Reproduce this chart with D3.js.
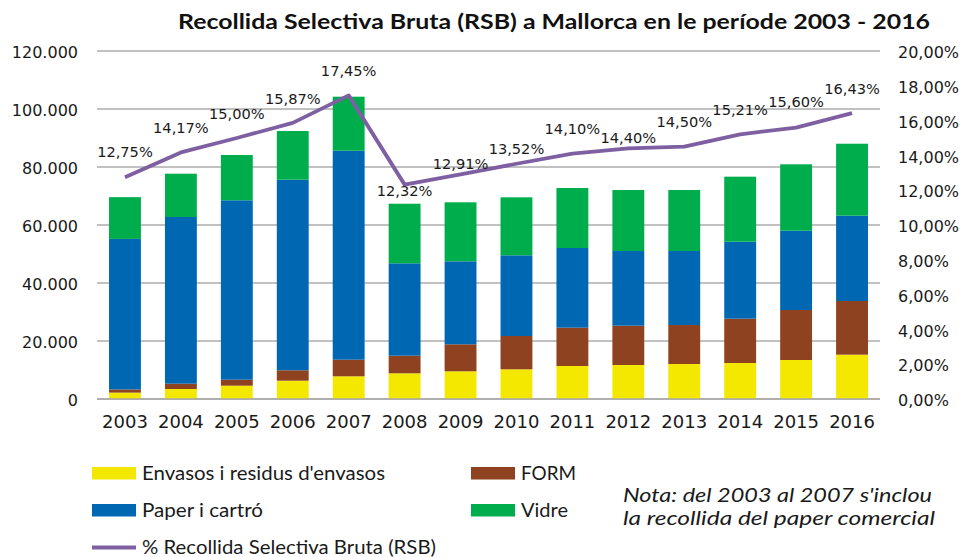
<!DOCTYPE html>
<html>
<head>
<meta charset="utf-8">
<script src="https://cdn.jsdelivr.net/npm/d3@7"></script>
<style>
  html, body { margin: 0; padding: 0; background: #fff; }
  svg { display: block; }
</style>
</head>
<body>
<svg id="chart" width="963" height="557"></svg>
<script>
// Tonnes collected per year and fraction, plus the overall RSB percentage
const years = ["2003","2004","2005","2006","2007","2008","2009","2010","2011","2012","2013","2014","2015","2016"];
const envasos = [2200, 3450, 4590, 6310, 7830, 8860, 9550, 10240, 11380, 11720, 12070, 12410, 13450, 15280];
const form    = [1100, 1830, 2070, 3590, 5720, 6070, 9310, 11480, 13210, 13560, 13450, 15280, 17240, 18510];
const paper   = [51900, 57480, 61860, 65720, 72070, 31860, 28620, 27830, 27480, 25750, 25510, 26550, 27340, 29420];
const vidre   = [14400, 14930, 15620, 16790, 18620, 20550, 20350, 20000, 20690, 21040, 21040, 22420, 22900, 24820];
const rsbPct  = [12.75, 14.17, 15.00, 15.87, 17.45, 12.32, 12.91, 13.52, 14.10, 14.40, 14.50, 15.21, 15.60, 16.43];

const leftTicks  = [0, 20000, 40000, 60000, 80000, 100000, 120000];
const rightTicks = [0, 2, 4, 6, 8, 10, 12, 14, 16, 18, 20];

const seriesNames = ["Envasos i residus d'envasos", "FORM", "Paper i cartró", "Vidre"];
const lineName = "% Recollida Selectiva Bruta (RSB)";
const titleText = "Recollida Selectiva Bruta (RSB) a Mallorca en le període 2003 - 2016";
const noteLines = ["Nota: del 2003 al 2007 s'inclou", "la recollida del paper comercial"];

const colors = {
  "Envasos i residus d'envasos": "#f4e800",
  "FORM": "#8e4220",
  "Paper i cartró": "#0068b3",
  "Vidre": "#00ad4c"
};
const lineColor = "#7e60a2";

// vertical offset of each percentage label's baseline from its point
const labelDy = [-20, -19, -19, -19, -19, 11, -5, -10, -20, -5, -20, -19, -21, -19];

const rows = years.map((y, i) => ({
  year: y,
  "Envasos i residus d'envasos": envasos[i],
  "FORM": form[i],
  "Paper i cartró": paper[i],
  "Vidre": vidre[i]
}));

const svg = d3.select("#chart");
const plot = { left: 97, right: 880, top: 51, bottom: 399 };

const x = d3.scaleBand()
  .domain(years)
  .range([plot.left, plot.right])
  .paddingInner(0.43)
  .paddingOuter(0.215);

const y = d3.scaleLinear().domain([0, 120000]).range([plot.bottom, plot.top]);
const y2 = d3.scaleLinear().domain([0, 20]).range([plot.bottom, plot.top]);

const fmtThousands = d3.formatLocale({ decimal: ",", thousands: ".", grouping: [3], currency: ["", "€"] }).format(",.0f");
const fmtPct = v => d3.format(".2f")(v).replace(".", ",") + "%";

// gridlines
svg.append("g")
  .selectAll("line")
  .data(leftTicks)
  .join("line")
  .attr("x1", plot.left).attr("x2", plot.right)
  .attr("y1", d => y(d)).attr("y2", d => y(d))
  .attr("stroke", "#adadad")
  .attr("stroke-width", 1.3);

// left axis
const leftAxis = svg.append("g")
  .attr("transform", `translate(${plot.left},0)`)
  .call(d3.axisLeft(y).tickValues(leftTicks).tickFormat(d => d === 0 ? "0" : fmtThousands(d)).tickSize(0).tickPadding(19));
leftAxis.select(".domain").remove();
leftAxis.selectAll("text")
  .attr("font-family", "DejaVu Sans, Verdana, sans-serif")
  .attr("font-size", 16)
  .attr("fill", "#1a1a1a")
  .attr("dy", "0.42em");

// right axis
const rightAxis = svg.append("g")
  .attr("transform", `translate(${plot.right},0)`)
  .call(d3.axisRight(y2).tickValues(rightTicks).tickFormat(fmtPct).tickSize(0).tickPadding(18));
rightAxis.select(".domain").remove();
rightAxis.selectAll("text")
  .attr("font-family", "DejaVu Sans, Verdana, sans-serif")
  .attr("font-size", 16)
  .attr("fill", "#1a1a1a")
  .attr("dy", "0.42em");

// bottom axis
const bottomAxis = svg.append("g")
  .attr("transform", `translate(0,${plot.bottom})`)
  .call(d3.axisBottom(x).tickSize(0).tickPadding(16));
bottomAxis.select(".domain").remove();
bottomAxis.selectAll("text")
  .attr("font-family", "DejaVu Sans, Verdana, sans-serif")
  .attr("font-size", 18)
  .attr("fill", "#1a1a1a");

// stacked bars
const stack = d3.stack().keys(seriesNames);
const layers = stack(rows);
svg.append("g")
  .selectAll("g")
  .data(layers)
  .join("g")
  .attr("fill", d => colors[d.key])
  .selectAll("rect")
  .data(d => d)
  .join("rect")
  .attr("x", d => x(d.data.year))
  .attr("width", x.bandwidth())
  .attr("y", d => y(d[1]))
  .attr("height", d => y(d[0]) - y(d[1]));

// baseline
svg.append("line")
  .attr("x1", plot.left).attr("x2", plot.right)
  .attr("y1", plot.bottom).attr("y2", plot.bottom)
  .attr("stroke", "#a8a8a8").attr("stroke-width", 1.5);

// RSB percentage line
const cx = i => x(years[i]) + x.bandwidth() / 2;
const line = d3.line().x((d, i) => cx(i)).y(d => y2(d));
svg.append("path")
  .datum(rsbPct)
  .attr("d", line)
  .attr("fill", "none")
  .attr("stroke", lineColor)
  .attr("stroke-width", 3.8)
  .attr("stroke-linejoin", "round");

svg.append("g")
  .selectAll("text")
  .data(rsbPct)
  .join("text")
  .attr("x", (d, i) => cx(i))
  .attr("y", (d, i) => y2(d) + labelDy[i])
  .attr("text-anchor", "middle")
  .attr("font-family", "DejaVu Sans, Verdana, sans-serif")
  .attr("font-size", 14.6)
  .attr("fill", "#1a1a1a")
  .text(fmtPct);

// title
svg.append("text")
  .attr("x", 554).attr("y", 28.5)
  .attr("text-anchor", "middle")
  .attr("font-family", "Lato, sans-serif")
  .attr("font-weight", "bold")
  .attr("font-size", 20)
  .attr("fill", "#111")
  .attr("textLength", 752)
  .attr("lengthAdjust", "spacingAndGlyphs")
  .text(titleText);

// legend
const legendItems = [
  { name: seriesNames[0], x: 92, y: 467, w: 243 },
  { name: seriesNames[1], x: 471, y: 467, w: 55 },
  { name: seriesNames[2], x: 92, y: 504, w: 121 },
  { name: seriesNames[3], x: 471, y: 504, w: 47 }
];
const legend = svg.append("g").attr("font-family", "Lato, sans-serif").attr("font-size", 19.5).attr("fill", "#1a1a1a");
legendItems.forEach(item => {
  legend.append("rect")
    .attr("x", item.x).attr("y", item.y)
    .attr("width", 44).attr("height", 12.5)
    .attr("fill", colors[item.name]);
  legend.append("text")
    .attr("x", item.x + 50).attr("y", item.y + 12.8)
    .attr("textLength", item.w)
    .attr("lengthAdjust", "spacingAndGlyphs")
    .text(item.name);
});
legend.append("line")
  .attr("x1", 92).attr("x2", 136)
  .attr("y1", 547.5).attr("y2", 547.5)
  .attr("stroke", lineColor).attr("stroke-width", 3.8);
legend.append("text")
  .attr("x", 142).attr("y", 553.5)
  .attr("textLength", 294)
  .attr("lengthAdjust", "spacingAndGlyphs")
  .text(lineName);

// note
svg.append("g")
  .attr("font-family", "Lato, sans-serif")
  .attr("font-style", "italic")
  .attr("font-size", 19.5)
  .attr("fill", "#1a1a1a")
  .selectAll("text")
  .data(noteLines)
  .join("text")
  .attr("x", 623)
  .attr("y", (d, i) => 502 + i * 23)
  .attr("textLength", (d, i) => i === 0 ? 309 : 312)
  .attr("lengthAdjust", "spacingAndGlyphs")
  .text(d => d);
</script>
</body>
</html>
